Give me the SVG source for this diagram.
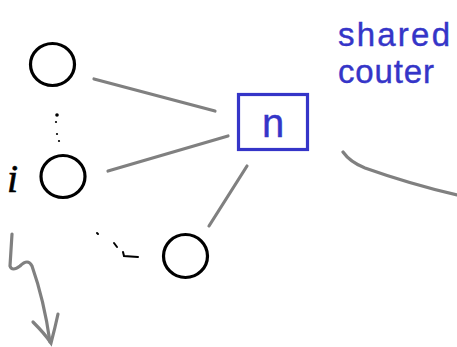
<svg xmlns="http://www.w3.org/2000/svg" width="457" height="347" viewBox="0 0 457 347">
  <style>
    .node { fill: none; stroke: #000; stroke-width: 3.2; }
    .edge { fill: none; stroke: #808080; stroke-width: 3.2; stroke-linecap: round; }
    .ink { fill: none; stroke: #000; stroke-width: 2; stroke-linecap: round; }
    .blue { fill: #3535c8; stroke: #3535c8; stroke-width: 0.4; font-family: "Liberation Sans", sans-serif; }
  </style>
  <rect width="457" height="347" fill="#fff"/>

  <g id="connectors">
    <line class="edge" x1="94" y1="79" x2="215" y2="111"/>
    <line class="edge" x1="108" y1="171" x2="228" y2="136"/>
    <line class="edge" x1="247" y1="166" x2="209" y2="226"/>
    <path class="edge" stroke-width="2.6" d="M343 152 Q350 162 365 168 Q410 184 457 195"/>
    <path class="edge" stroke-width="2.6" d="M12 234 Q11 250 10 266 Q12 272 20 266 Q28 258 32 266 Q44 300 50 342"/>
    <path class="edge" stroke-width="2.6" d="M33 322 Q45 334 51 343 Q55 328 58 314"/>
  </g>

  <g id="node-top">
    <ellipse class="node" cx="52.5" cy="64.5" rx="22" ry="21"/>
  </g>
  <g id="node-i">
    <ellipse class="node" cx="63" cy="176.5" rx="22" ry="21"/>
    <text x="7" y="192" font-family="Liberation Serif, serif" font-style="italic" font-size="40" fill="#000" stroke="#000" stroke-width="0.6">i</text>
  </g>
  <g id="node-bottom">
    <ellipse class="node" cx="185.5" cy="256" rx="22" ry="21.5"/>
  </g>
  <g id="node-counter">
    <rect x="238.5" y="94.5" width="69" height="55" fill="none" stroke="#3535c8" stroke-width="3.2"/>
    <text class="blue" x="273" y="137" font-size="40" text-anchor="middle">n</text>
  </g>

  <g id="ellipsis-dots">
    <circle cx="57" cy="115" r="1.8" fill="#000"/>
    <circle cx="56" cy="122" r="1.1" fill="#000"/>
    <circle cx="57" cy="134" r="1.1" fill="#000"/>
    <circle cx="59" cy="141" r="1.1" fill="#000"/>
    <path class="ink" d="M97 233 L98 234"/>
    <path class="ink" d="M114 243 L117 247"/>
    <path class="ink" d="M123 252 L124 256 L138 257"/>
  </g>

  <g id="label-shared-counter">
    <text class="blue" x="338" y="46" font-size="33" textLength="112" lengthAdjust="spacing">shared</text>
    <text class="blue" x="338" y="83" font-size="33" textLength="96" lengthAdjust="spacing">couter</text>
  </g>
</svg>
